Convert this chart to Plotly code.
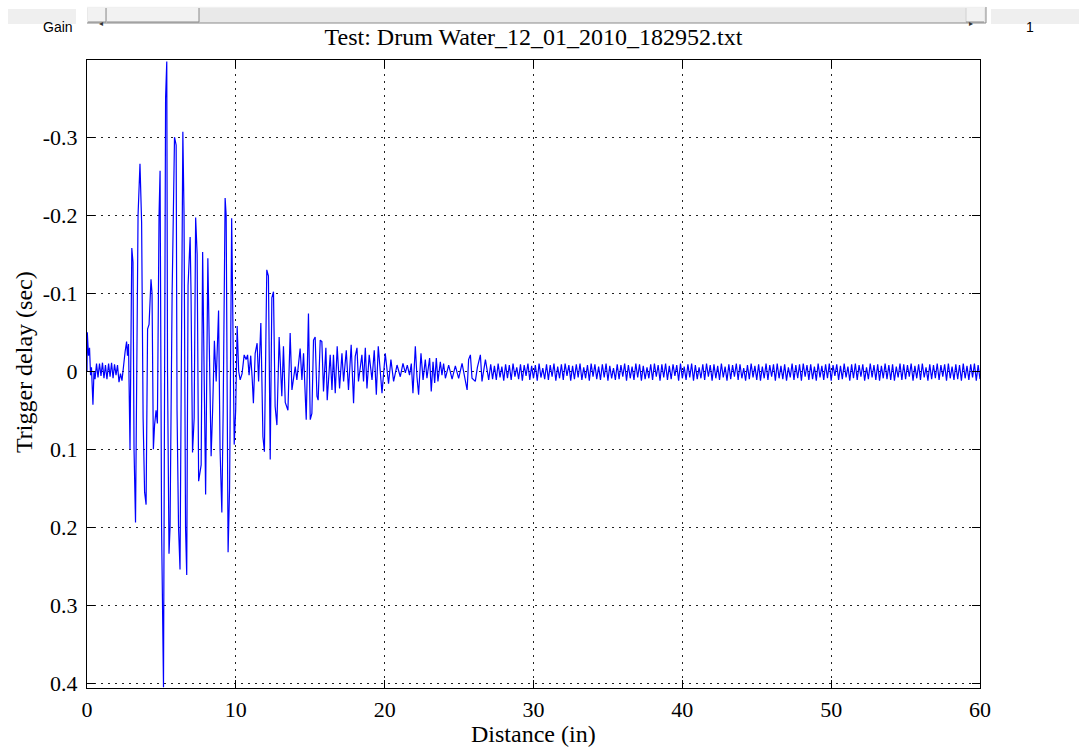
import plotly.graph_objects as go
import numpy as np

# ---------------- data ----------------
# burst region: distance (in) and trigger delay (sec) of vertices 0..27 in
burst_x = [
    0.00, 0.02, 0.10, 0.17, 0.24, 0.30, 0.40, 0.47, 0.54, 0.64, 0.74, 0.84, 0.94, 1.04, 1.14,
    1.24, 1.34, 1.45, 1.55, 1.65, 1.75, 1.85, 1.95, 2.05, 2.15, 2.25, 2.35, 2.49, 2.56, 2.66,
    2.72, 2.79, 2.89, 3.01, 3.09, 3.16, 3.26, 3.43, 3.56, 3.67, 3.77, 3.87, 3.97, 4.07, 4.17,
    4.30, 4.37, 4.46, 4.54, 4.64, 4.73, 4.84, 4.91, 5.01, 5.14, 5.28, 5.36, 5.41, 5.51, 5.58,
    5.72, 5.88, 5.99, 6.05, 6.15, 6.25, 6.36, 6.44, 6.52, 6.62, 6.70, 6.79, 6.93, 6.99, 7.09,
    7.20, 7.30, 7.40, 7.50, 7.67, 7.77, 7.87, 7.97, 8.12, 8.20, 8.34, 8.44, 8.56, 8.68, 8.84,
    8.94, 9.06, 9.15, 9.28, 9.35, 9.48, 9.58, 9.72, 9.78, 9.89, 9.99, 10.09, 10.19, 10.29, 10.42,
    10.56, 10.69, 10.79, 10.89, 11.00, 11.10, 11.18, 11.30, 11.43, 11.53, 11.68, 11.82, 11.92, 12.08, 12.19,
    12.31, 12.42, 12.53, 12.64, 12.76, 12.91, 13.09, 13.20, 13.32, 13.50, 13.65, 13.77, 13.99, 14.10, 14.32,
    14.44, 14.55, 14.66, 14.73, 14.88, 15.00, 15.11, 15.22, 15.33, 15.45, 15.53, 15.67, 15.78, 15.89, 16.05,
    16.14, 16.34, 16.46, 16.56, 16.68, 16.81, 16.97, 17.13, 17.24, 17.42, 17.57, 17.75, 17.91, 18.02, 18.14,
    18.24, 18.47, 18.58, 18.70, 18.81, 18.96, 19.15, 19.30, 19.44, 19.57, 19.82, 20.04, 20.26, 20.42, 20.60,
    20.83, 21.05, 21.23, 21.39, 21.52, 21.67, 21.79, 21.90, 22.06, 22.17, 22.28, 22.44, 22.58, 22.73, 22.84,
    23.02, 23.13, 23.25, 23.36, 23.47, 23.58, 23.74, 23.85, 23.96, 24.08, 24.30, 24.53, 24.75, 24.97, 25.20,
    25.35, 25.54, 25.64, 25.76, 25.87, 26.09, 26.23, 26.43, 26.54, 26.77, 26.99,
]
burst_y = [
    0.000, -0.050, -0.020, -0.030, 0.005, -0.005, 0.043, 0.000, 0.010, -0.010, 0.008, -0.010, 0.006, -0.011, 0.009,
    -0.008, 0.010, -0.010, 0.007, -0.011, 0.009, -0.009, 0.005, -0.008, 0.014, 0.003, 0.012, -0.020, -0.025, -0.038,
    -0.020, -0.035, 0.100, -0.158, -0.140, 0.100, 0.194, -0.200, -0.266, -0.190, 0.060, 0.155, 0.171, -0.054, -0.060,
    -0.118, -0.100, 0.100, 0.069, 0.050, 0.067, -0.200, -0.257, 0.200, 0.405, -0.350, -0.397, 0.000, 0.234, 0.200,
    -0.100, -0.300, -0.290, 0.050, 0.200, 0.254, -0.187, -0.307, -0.200, 0.200, 0.261, -0.110, -0.172, -0.100, 0.104,
    0.060, -0.197, -0.150, 0.141, 0.120, -0.153, 0.000, 0.158, -0.145, -0.050, 0.109, 0.050, -0.039, 0.013, -0.078,
    0.100, 0.181, 0.050, -0.222, -0.200, 0.232, 0.150, -0.196, -0.100, 0.094, 0.050, -0.058, 0.000, 0.011, 0.003,
    -0.021, -0.015, -0.021, 0.005, -0.020, 0.010, 0.041, -0.023, -0.036, 0.013, -0.062, 0.084, 0.103, -0.130, -0.122,
    0.113, -0.094, -0.102, 0.045, 0.069, -0.044, 0.032, -0.032, 0.040, 0.050, -0.049, 0.024, -0.006, 0.011, -0.029,
    0.011, -0.023, 0.028, 0.062, -0.074, 0.062, 0.054, -0.040, -0.044, 0.032, 0.037, -0.040, -0.038, 0.026, -0.030,
    0.037, -0.021, 0.024, -0.021, 0.028, -0.032, 0.022, -0.023, 0.013, -0.027, 0.024, -0.034, 0.041, -0.019, -0.030,
    0.013, -0.021, 0.013, -0.030, 0.022, -0.021, 0.011, -0.027, 0.030, -0.032, 0.028, -0.023, 0.016, -0.015, 0.013,
    -0.008, 0.007, -0.010, 0.002, -0.008, 0.005, -0.010, 0.028, -0.032, 0.007, 0.030, -0.023, 0.011, -0.015, 0.009,
    -0.017, 0.026, -0.012, 0.015, -0.017, 0.013, -0.012, 0.005, -0.010, 0.009, -0.008, 0.010, -0.007, 0.009, -0.010,
    0.005, 0.024, -0.015, -0.021, 0.009, 0.013, -0.005, -0.021, 0.013, -0.015, 0.011,
]

# steady tail: one sample every 0.125 in from 27.125 in to 60 in, values in milliseconds
tail_x0 = 27.125
tail_dx = 0.125
tail_ms = [
    -9, 10, -7, 11, -10, 8, -6, 12, -9, 9, -8, 11,
    -10, 7, -5, 10, -9, 12, -8, 6, -10, 11, -7, 9,
    -8, 12, -10, 8, -4, 10, -9, 11, -8, 7, -10, 12,
    -6, 9, -9, 11, -10, 6, -8, 12, -7, 10, -9, 8,
    -10, 11, -5, 9, -8, 12, -10, 7, -9, 10, -6, 11,
    -9, 8, -10, 12, -7, 9, -4, 11, -9, 10, -8, 7,
    -10, 12, -8, 9, -6, 11, -10, 8, -9, 12, -7, 10,
    -5, 9, -9, 11, -10, 7, -8, 12, -9, 8, -10, 11,
    -7, 10, -9, 6, -8, 12, -10, 9, -6, 11, -9, 8,
    -10, 12, -8, 10, -5, 9, -9, 11, -10, 7, -8, 12,
    -9, 9, -7, 11, -10, 8, -6, 12, -9, 10, -8, 7,
    -10, 11, -9, 9, -4, 12, -8, 10, -10, 8, -7, 11,
    -9, 12, -6, 9, -10, 11, -8, 7, -9, 12, -10, 9,
    -7, 10, -9, 12, -5, 8, -10, 11, -8, 9, -9, 12,
    -10, 7, -8, 11, -9, 10, -6, 12, -10, 8, -7, 11,
    -9, 9, -10, 12, -8, 6, -9, 11, -7, 10, -10, 8,
    -6, 12, -9, 9, -10, 11, -8, 7, -9, 12, -5, 10,
    -10, 8, -8, 11, -9, 12, -7, 9, -10, 10, -8, 11,
    -9, 12, -6, 8, -10, 11, -9, 10, -8, 7, -10, 12,
    -7, 9, -9, 11, -10, 8, -5, 12, -9, 10, -8, 9,
    -10, 11, -8, 7, -9, 12, -10, 9, -6, 11, -9, 10,
    -8, 12, -10, 9, -7, 11, -9, 8, -10, 12, -8, 10,
]

x_ticks = [0, 10, 20, 30, 40, 50, 60]
y_ticks = [-0.3, -0.2, -0.1, 0, 0.1, 0.2, 0.3, 0.4]
y_tick_text = ["-0.3", "-0.2", "-0.1", "0", "0.1", "0.2", "0.3", "0.4"]

title_text = "Test: Drum Water_12_01_2010_182952.txt"
x_label = "Distance (in)"
y_label = "Trigger delay (sec)"

# ---------------- build ----------------
tail_x = tail_x0 + tail_dx * np.arange(len(tail_ms))
tail_y = np.array(tail_ms) / 1000.0
xs = np.concatenate([np.array(burst_x), tail_x])
ys = np.concatenate([np.array(burst_y), tail_y])

W, H = 1079, 747
L, R, T, B = 87, 980, 60, 688  # plot box in pixels


def px(x):
    return (x - L) / (R - L)


def py(y):
    return (B - y) / (B - T)


fig = go.Figure()
fig.add_trace(go.Scatter(x=xs, y=ys, mode="lines",
                         line=dict(color="#0000ff", width=1.2),
                         hoverinfo="skip", showlegend=False))

serif = "Liberation Serif, Times New Roman, serif"
axis_common = dict(
    showline=True, linecolor="black", linewidth=1, mirror="ticks",
    ticks="inside", ticklen=8, tickcolor="black", tickwidth=1,
    showgrid=True, gridcolor="#222222", gridwidth=1, griddash="2px,5px",
    zeroline=False, tickfont=dict(family=serif, size=22, color="black"),
)

fig.update_layout(
    width=W, height=H,
    margin=dict(l=L, r=W - R, t=T, b=H - B),
    paper_bgcolor="white", plot_bgcolor="white",
    title=dict(text=title_text, x=(L + R) / 2 / W, xanchor="center",
               y=1 - 37 / H, yanchor="middle",
               font=dict(family=serif, size=24, color="black")),
    xaxis=dict(range=[0, 60], tickvals=x_ticks, ticklabelstandoff=2, **axis_common),
    yaxis=dict(range=[0.406, -0.399], tickvals=y_ticks, ticktext=y_tick_text,
               ticklabelstandoff=4, **axis_common),
    showlegend=False,
)

# axis labels
fig.add_annotation(text=x_label, x=0.5, xref="paper", y=py(734), yref="paper",
                   showarrow=False, xanchor="center", yanchor="middle",
                   font=dict(family=serif, size=24, color="black"))
fig.add_annotation(text=y_label, x=px(24), xref="paper", y=py(362), yref="paper",
                   showarrow=False, textangle=-90, xanchor="center", yanchor="middle",
                   font=dict(family=serif, size=24, color="black"))

# MATLAB-style uicontrols at top (decoration)
shapes = []


def rect(x0, y0, x1, y1, fill, line=None, lw=0):
    shapes.append(dict(type="rect", xref="paper", yref="paper",
                       x0=px(x0), x1=px(x1), y0=py(y1), y1=py(y0),
                       fillcolor=fill, line=dict(color=line or fill, width=lw), layer="above"))


def seg(x0, y0, x1, y1, color, w=1):
    shapes.append(dict(type="line", xref="paper", yref="paper",
                       x0=px(x0), x1=px(x1), y0=py(y0), y1=py(y1),
                       line=dict(color=color, width=w), layer="above"))


# Gain button
rect(8, 9, 76, 24, "#efefef")
# slider trough
rect(87, 7, 986, 23, "#e9e9e9")
seg(87, 7, 986, 7, "#f8f8f8")
seg(87, 23, 986, 23, "#8a8a8a")
seg(986, 7, 986, 23, "#8a8a8a")
# left arrow button
rect(88, 8, 106, 22, "#f2f2f2")
seg(106, 8, 106, 22, "#8a8a8a")
seg(88, 22, 106, 22, "#8a8a8a")
# thumb
rect(107, 8, 199, 22, "#f2f2f2")
seg(199, 8, 199, 22, "#8a8a8a")
seg(107, 22, 199, 22, "#8a8a8a")
# right arrow button
rect(966, 8, 984, 22, "#f2f2f2")
seg(966, 8, 966, 22, "#d0d0d0")
seg(966, 22, 984, 22, "#8a8a8a")
# value box
rect(991, 9, 1079, 24, "#efefef")
fig.update_layout(shapes=shapes)

ctrl_font = dict(family="Liberation Sans Narrow, Liberation Sans, Arial, sans-serif", size=14, color="black")
fig.add_annotation(text="Gain", x=px(41), y=py(17), xref="paper", yref="paper",
                   showarrow=False, font=ctrl_font)
fig.add_annotation(text="1", x=px(1036), y=py(17), xref="paper", yref="paper",
                   showarrow=False, font=ctrl_font)
fig.add_annotation(text="◂", x=px(97), y=py(15), xref="paper", yref="paper",
                   showarrow=False, font=dict(size=8, color="#333"))
fig.add_annotation(text="▸", x=px(975), y=py(15), xref="paper", yref="paper",
                   showarrow=False, font=dict(size=8, color="#333"))

fig.write_html("out.html")
